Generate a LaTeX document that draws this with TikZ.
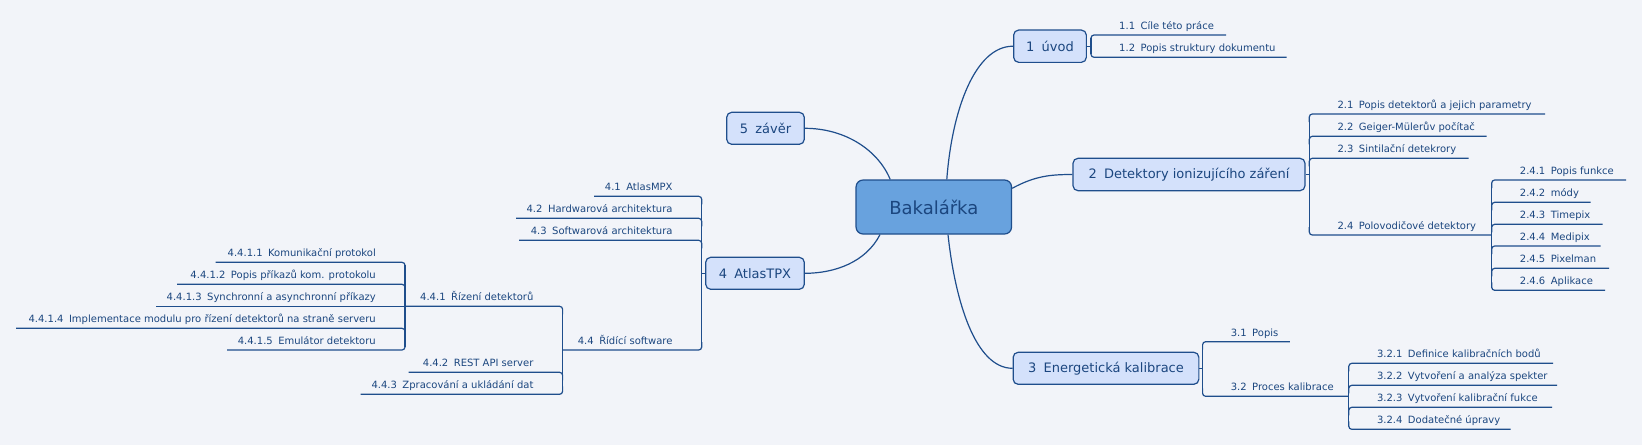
\documentclass[tikz,border=0pt]{standalone}
\usepackage{fontspec}
\setmainfont{DejaVu Sans}
\definecolor{bgc}{HTML}{F2F4F9}
\definecolor{lnc}{HTML}{1F4E8C}
\definecolor{txt}{HTML}{1B467F}
\definecolor{boxf}{HTML}{D4E1FB}
\definecolor{cenf}{HTML}{68A2DE}
\tikzset{
  lnk/.style={draw=lnc, line width=1.2pt},
  brk/.style={draw=lnc, line width=1.2pt, rounded corners=3pt},
  sub/.style={inner sep=0pt, text=txt, font=\fontsize{10}{12}\selectfont},
  topic/.style={draw=lnc, line width=1.2pt, fill=boxf, rounded corners=5pt, text=txt,
    font=\fontsize{13}{15}\selectfont, inner sep=0pt},
  central/.style={draw=lnc, line width=1.2pt, fill=cenf, rounded corners=7pt, text=txt,
    font=\fontsize{18}{20}\selectfont, inner sep=0pt}
}
\newcommand\nm[2]{#1\hspace{0.55em}#2}
% right-side item: name, bracket x, line y, line end x, number, text, corner offset
\newcommand\itemR[7]{%
  \coordinate (#1a) at (#2,#3+#7);
  \coordinate (#1b) at (#4,#3);
  \node[sub, anchor=base west] (#1) at (#2+28,#3-5.5) {\nm{#5}{#6}};
  \draw[brk] (#1a) |- (#1b);
}
% left-side item
\newcommand\itemL[7]{%
  \coordinate (#1a) at (#2,#3+#7);
  \coordinate (#1b) at (#4,#3);
  \node[sub, anchor=base east] (#1) at (#2-29,#3-5.5) {\nm{#5}{#6}};
  \draw[brk] (#1a) |- (#1b);
}
\begin{document}
\begin{tikzpicture}[x=1pt,y=-1pt]
\fill[bgc] (0,0) rectangle (1642,445);
\useasboundingbox (0,0) rectangle (1642,445);

% central and main topics
\node[central, minimum width=155.5pt, minimum height=54pt] (cen) at (933.8,207) {Bakalářka};
\node[topic, minimum width=72.7pt, minimum height=32.3pt] (n1) at (1050,46.2) {\nm{1}{úvod}};
\node[topic, minimum width=232pt, minimum height=32.4pt] (n2) at (1189,174.5) {\nm{2}{Detektory ionizujícího záření}};
\node[topic, minimum width=185.7pt, minimum height=32pt] (n3) at (1106,368.3) {\nm{3}{Energetická kalibrace}};
\node[topic, minimum width=98.6pt, minimum height=32pt] (n4) at (755,273.3) {\nm{4}{AtlasTPX}};
\node[topic, minimum width=77.6pt, minimum height=32pt] (n5) at (765.5,128.3) {\nm{5}{závěr}};

% curved connectors
\draw[lnk] ([xshift=13pt]cen.north) .. controls (952,110) and (975,46.2) .. (n1.west);
\draw[lnk] ([yshift=18.7pt]cen.east) .. controls (1035,176) and (1050,174.5) .. (n2.west);
\draw[lnk] ([xshift=-43.6pt]cen.north) .. controls (878,150) and (845,128.3) .. (n5.east);
\draw[lnk] ([xshift=-53.8pt]cen.south) .. controls (866,262) and (835,273.3) .. (n4.east);
\draw[lnk] ([xshift=14.2pt]cen.south) .. controls (955,300) and (975,368.3) .. (n3.west);

% 1.x
\coordinate (b1) at (1091,46.2);
\draw[lnk] (n1.east) -- (b1);
\draw[lnk] (1091,38) -- (1091,54.3);
\itemR{s11}{1091}{35}{1226}{1.1}{Cíle této práce}{8}
\itemR{s12}{1091}{57.3}{1286.7}{1.2}{Popis struktury dokumentu}{-8}

% 2.x
\coordinate (b2) at (1309.3,174.5);
\draw[lnk] (n2.east) -- (b2);
\draw[lnk] (1309.3,117) -- (1309.3,232);
\itemR{s21}{1309.3}{114}{1545}{2.1}{Popis detektorů a jejich parametry}{8}
\itemR{s22}{1309.3}{136.3}{1486.7}{2.2}{Geiger-Mülerův počítač}{8}
\itemR{s23}{1309.3}{158.3}{1468.7}{2.3}{Sintilační detekrory}{8}
\itemR{s24}{1309.3}{235}{1491.7}{2.4}{Polovodičové detektory}{-8}

% 2.4.x
\draw[lnk] (1491.7,183) -- (1491.7,287.3);
\itemR{s241}{1491.7}{180}{1626}{2.4.1}{Popis funkce}{8}
\itemR{s242}{1491.7}{202.3}{1590.7}{2.4.2}{módy}{8}
\itemR{s243}{1491.7}{224.3}{1602.7}{2.4.3}{Timepix}{8}
\itemR{s244}{1491.7}{246}{1600.7}{2.4.4}{Medipix}{8}
\itemR{s245}{1491.7}{268.3}{1609}{2.4.5}{Pixelman}{8}
\itemR{s246}{1491.7}{290.3}{1605}{2.4.6}{Aplikace}{-8}

% 3.x
\coordinate (b3) at (1202.6,368.3);
\draw[lnk] (n3.east) -- (b3);
\draw[lnk] (1202.6,344.7) -- (1202.6,393.3);
\itemR{s31}{1202.6}{341.7}{1289.8}{3.1}{Popis}{8}
\itemR{s32}{1202.6}{396.3}{1348.8}{3.2}{Proces kalibrace}{-8}

% 3.2.x
\draw[lnk] (1348.8,366.3) -- (1348.8,426.3);
\itemR{s321}{1348.8}{363.3}{1553}{3.2.1}{Definice kalibračních bodů}{8}
\itemR{s322}{1348.8}{385.3}{1557}{3.2.2}{Vytvoření a analýza spekter}{8}
\itemR{s323}{1348.8}{407.3}{1552}{3.2.3}{Vytvoření kalibrační fukce}{8}
\itemR{s324}{1348.8}{429.3}{1510.6}{3.2.4}{Dodatečné úpravy}{-8}

% 4.x
\coordinate (b4) at (701.7,273.3);
\draw[lnk] (n4.west) -- (b4);
\draw[lnk] (701.7,199.3) -- (701.7,347);
\itemL{s41}{701.7}{196.3}{594}{4.1}{AtlasMPX}{8}
\itemL{s42}{701.7}{218.3}{516}{4.2}{Hardwarová architektura}{8}
\itemL{s43}{701.7}{240.3}{519}{4.3}{Softwarová architektura}{8}
\itemL{s44}{701.7}{350}{562.6}{4.4}{Řídící software}{-8}

% 4.4.x
\draw[lnk] (562.6,309.3) -- (562.6,391.3);
\itemL{s441}{562.6}{306.3}{405}{4.4.1}{Řízení detektorů}{8}
\itemL{s442}{562.6}{372.3}{408.7}{4.4.2}{REST API server}{8}
\itemL{s443}{562.6}{394.3}{360.5}{4.4.3}{Zpracování a ukládání dat}{-8}

% 4.4.1.x
\draw[lnk] (405,265.3) -- (405,347);
\itemL{s4411}{405}{262.3}{215.5}{4.4.1.1}{Komunikační protokol}{8}
\itemL{s4412}{405}{284.3}{177.2}{4.4.1.2}{Popis příkazů kom. protokolu}{8}
\coordinate (s4413a) at (405,306.3);
\coordinate (s4413b) at (156.1,306.3);
\node[sub, anchor=base east] (s4413) at (376,300.8) {\nm{4.4.1.3}{Synchronní a asynchronní příkazy}};
\draw[lnk] (s4413a) -- (s4413b);
\itemL{s4414}{405}{328.3}{16.1}{4.4.1.4}{Implementace modulu pro řízení detektorů na straně serveru}{8}
\itemL{s4415}{405}{350}{227}{4.4.1.5}{Emulátor detektoru}{-8}
\end{tikzpicture}
\end{document}
